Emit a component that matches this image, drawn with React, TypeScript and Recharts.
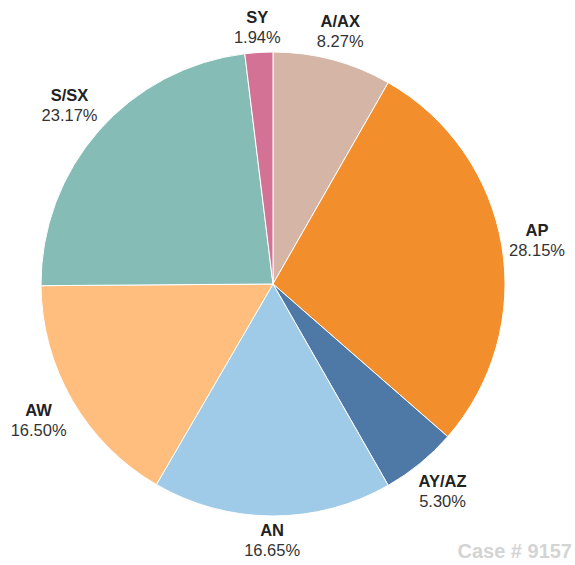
import React from 'react';
import { PieChart, Pie, Cell } from 'recharts';

// Slices clockwise from 12 o'clock
const names = ['A/AX', 'AP', 'AY/AZ', 'AN', 'AW', 'S/SX', 'SY'];
const shares = [8.27, 28.15, 5.3, 16.65, 16.5, 23.17, 1.94];
const colors = ['#d5b6a6', '#f28e2b', '#4e78a6', '#a0cbe8', '#ffbe7d', '#86bcb6', '#d37295'];

const data = names.map((name, i) => ({ name, value: shares[i] }));

const RAD = Math.PI / 180;

// place the two-line label box just outside the rim, pushed out by its own extent
const renderLabel = (props: any) => {
  const { cx, cy, midAngle, outerRadius, name, value } = props;
  const pct = `${value.toFixed(2)}%`;
  const halfW = Math.max(name.length * 10.2, pct.length * 9.6) / 2;
  const halfH = 20;
  const cos = Math.cos(-midAngle * RAD);
  const sin = Math.sin(-midAngle * RAD);
  const r = outerRadius + 4 + Math.abs(cos) * halfW + Math.abs(sin) * halfH;
  const x = cx + r * cos;
  const y = cy + r * sin;
  return (
    <g>
      <text
        x={x}
        y={y - 10}
        textAnchor="middle"
        dominantBaseline="central"
        fill="#222"
        fontWeight="bold"
        fontSize={16.5}
        fontFamily="Liberation Sans, Arial, sans-serif"
      >
        {name}
      </text>
      <text
        x={x}
        y={y + 10}
        textAnchor="middle"
        dominantBaseline="central"
        fill="#333"
        fontSize={16.5}
        fontFamily="Liberation Sans, Arial, sans-serif"
      >
        {pct}
      </text>
    </g>
  );
};

export default function App() {
  return (
    <div style={{ position: 'absolute', left: 0, top: 0, width: 575, height: 565, background: '#fff' }}>
      <PieChart width={575} height={565} margin={{ top: 0, right: 0, bottom: 0, left: 0 }}>
        <Pie
          data={data}
          dataKey="value"
          nameKey="name"
          cx={273}
          cy={284}
          outerRadius={232}
          startAngle={90}
          endAngle={-270}
          stroke="#ffffff"
          strokeWidth={1}
          label={renderLabel}
          labelLine={false}
          isAnimationActive={false}
        >
          {data.map((entry, index) => (
            <Cell key={`cell-${index}`} fill={colors[index]} />
          ))}
        </Pie>
      </PieChart>
      {/* Watermark */}
      <div
        style={{
          position: 'absolute',
          right: 3,
          bottom: 2,
          color: '#d4d4d4',
          fontFamily: 'Liberation Sans, Arial, sans-serif',
          fontWeight: 'bold',
          fontSize: 20,
        }}
      >
        Case # 9157
      </div>
    </div>
  );
}
